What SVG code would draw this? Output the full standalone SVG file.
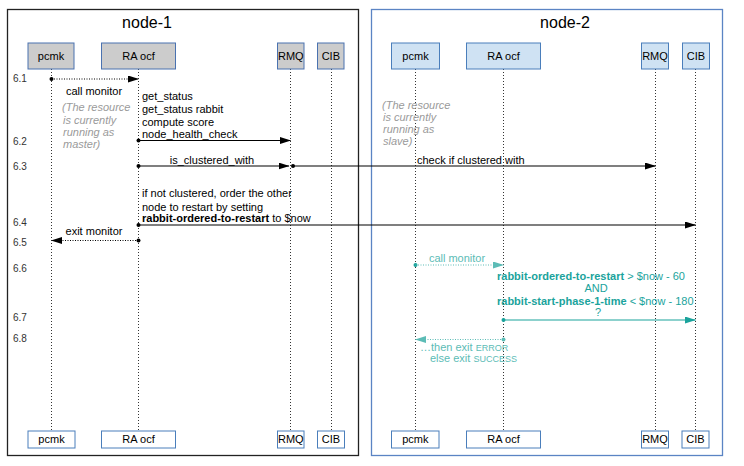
<svg xmlns="http://www.w3.org/2000/svg" width="744" height="466" viewBox="0 0 744 466">
<defs>
<marker id="ab" markerWidth="11" markerHeight="7" refX="10.5" refY="3.5" orient="auto" markerUnits="userSpaceOnUse"><path d="M0,0 L11,3.5 L0,7 z" fill="#000"/></marker>
<marker id="at" markerWidth="11" markerHeight="7" refX="10.5" refY="3.5" orient="auto" markerUnits="userSpaceOnUse"><path d="M0,0 L11,3.5 L0,7 z" fill="#1aa39c"/></marker>
<marker id="atl" markerWidth="11" markerHeight="7" refX="10.5" refY="3.5" orient="auto" markerUnits="userSpaceOnUse"><path d="M0,0 L11,3.5 L0,7 z" fill="#5cbcb6"/></marker>
</defs>
<style>
text{font-family:"Liberation Sans",Arial,Helvetica,sans-serif;font-size:11px;fill:#000}
.f1{fill:#fff;stroke:#222;stroke-width:1.3}
.f2{fill:#fff;stroke:#5b84c4;stroke-width:1.3}
.g{fill:#cccccc;stroke:#4a72b0;stroke-width:1}
.bl{fill:#cfe2f3;stroke:#4a7ebb;stroke-width:1}
.w{fill:#fff;stroke:#4a7ebb;stroke-width:1}
.life{stroke:#000;stroke-width:0.8;stroke-dasharray:1 2;fill:none}
.sol{stroke:#000;stroke-width:1.1;fill:none}
.dot{stroke:#000;stroke-width:1;stroke-dasharray:1 1.5;fill:none}
.tsol{stroke:#1aa39c;stroke-width:1.1;fill:none}
.tdot{stroke:#5cbcb6;stroke-width:1;stroke-dasharray:1 1.5;fill:none}
.note{fill:#9a9a9a;font-style:italic}
.num{font-size:10px;fill:#333}
.hd{font-size:16px}
.t{fill:#1aa39c}
.tl{fill:#5cbcb6}
.sc{font-size:9px}
</style>

<g id="frames">
<rect id="node-1" class="f1" x="7.5" y="9.5" width="351" height="446"/>
<rect id="node-2" class="f2" x="371.5" y="9.5" width="351" height="446"/>
<text class="hd" x="147" y="28" text-anchor="middle">node-1</text>
<text class="hd" x="565" y="28" text-anchor="middle">node-2</text>
</g>

<g id="lifelines">
<line class="life" x1="51.5" y1="69" x2="51.5" y2="431"/>
<line class="life" x1="138.5" y1="69" x2="138.5" y2="431"/>
<line class="life" x1="290.5" y1="69" x2="290.5" y2="431"/>
<line class="life" x1="331.5" y1="69" x2="331.5" y2="431"/>
<line class="life" x1="415.5" y1="69" x2="415.5" y2="431"/>
<line class="life" x1="503.5" y1="69" x2="503.5" y2="431"/>
<line class="life" x1="655.5" y1="69" x2="655.5" y2="431"/>
<line class="life" x1="695.5" y1="69" x2="695.5" y2="431"/>
</g>

<g id="n1-pcmk"><rect class="g" x="28" y="43" width="46" height="26"/><text x="51" y="60" text-anchor="middle">pcmk</text></g>
<g id="n1-ra"><rect class="g" x="101.5" y="43" width="74" height="26"/><text x="138.5" y="60" text-anchor="middle">RA ocf</text></g>
<g id="n1-rmq"><rect class="g" x="277.5" y="43" width="26.5" height="26"/><text x="290.8" y="60" text-anchor="middle">RMQ</text></g>
<g id="n1-cib"><rect class="g" x="317.5" y="43" width="26.5" height="26"/><text x="330.8" y="60" text-anchor="middle">CIB</text></g>

<g id="n2-pcmk"><rect class="bl" x="391.5" y="43" width="48" height="26"/><text x="415.5" y="60" text-anchor="middle">pcmk</text></g>
<g id="n2-ra"><rect class="bl" x="466.5" y="43" width="74" height="26"/><text x="503.5" y="60" text-anchor="middle">RA ocf</text></g>
<g id="n2-rmq"><rect class="bl" x="641.5" y="43" width="27" height="26"/><text x="655" y="60" text-anchor="middle">RMQ</text></g>
<g id="n2-cib"><rect class="bl" x="682.5" y="43" width="27" height="26"/><text x="696" y="60" text-anchor="middle">CIB</text></g>

<g id="n1-pcmk-bottom"><rect class="w" x="28" y="431" width="47" height="17"/><text x="51.5" y="443" text-anchor="middle">pcmk</text></g>
<g id="n1-ra-bottom"><rect class="w" x="101.5" y="431" width="74" height="17"/><text x="138.5" y="443" text-anchor="middle">RA ocf</text></g>
<g id="n1-rmq-bottom"><rect class="w" x="277.5" y="431" width="26.5" height="17"/><text x="290.8" y="443" text-anchor="middle">RMQ</text></g>
<g id="n1-cib-bottom"><rect class="w" x="317.5" y="431" width="27" height="17"/><text x="331" y="443" text-anchor="middle">CIB</text></g>

<g id="n2-pcmk-bottom"><rect class="w" x="391.5" y="431" width="47.5" height="17"/><text x="415.3" y="443" text-anchor="middle">pcmk</text></g>
<g id="n2-ra-bottom"><rect class="w" x="466.5" y="431" width="74" height="17"/><text x="503.5" y="443" text-anchor="middle">RA ocf</text></g>
<g id="n2-rmq-bottom"><rect class="w" x="641.5" y="431" width="27" height="17"/><text x="655" y="443" text-anchor="middle">RMQ</text></g>
<g id="n2-cib-bottom"><rect class="w" x="682" y="431" width="27" height="17"/><text x="695.5" y="443" text-anchor="middle">CIB</text></g>

<g id="step-labels">
<text class="num" x="13" y="82">6.1</text>
<text class="num" x="13" y="145">6.2</text>
<text class="num" x="13" y="170">6.3</text>
<text class="num" x="13" y="226">6.4</text>
<text class="num" x="13" y="246">6.5</text>
<text class="num" x="13" y="272">6.6</text>
<text class="num" x="13" y="321">6.7</text>
<text class="num" x="13" y="342">6.8</text>
</g>

<g id="notes">
<text class="note" x="62" y="111">(The resource</text>
<text class="note" x="63" y="124">is currently</text>
<text class="note" x="63" y="136">running as</text>
<text class="note" x="63" y="148">master)</text>
<text class="note" x="382" y="109">(The resource</text>
<text class="note" x="383" y="121">is currently</text>
<text class="note" x="383" y="133">running as</text>
<text class="note" x="383" y="145">slave)</text>
</g>

<g id="connectors">
<circle cx="51.5" cy="79" r="2" fill="#000"/>
<line class="dot" x1="51.5" y1="79" x2="138.5" y2="79" marker-end="url(#ab)"/>
<text x="94" y="95" text-anchor="middle">call monitor</text>
<text x="142" y="100">get_status</text>
<text x="142" y="113">get_status rabbit</text>
<text x="142" y="126">compute score</text>
<text x="142" y="138">node_health_check</text>
<circle cx="138.5" cy="140.5" r="2" fill="#000"/>
<line class="sol" x1="138.5" y1="140.5" x2="290.5" y2="140.5" marker-end="url(#ab)"/>
<text x="212" y="164" text-anchor="middle">is_clustered_with</text>
<circle cx="138.5" cy="166" r="2" fill="#000"/>
<line class="sol" x1="138.5" y1="166" x2="289" y2="166" marker-end="url(#ab)"/>
<circle cx="293" cy="166" r="2" fill="#000"/>
<line class="sol" x1="293" y1="166" x2="655.5" y2="166" marker-end="url(#ab)"/>
<text x="417" y="164">check if clustered with</text>
<text x="142" y="197">if not clustered, order the other</text>
<text x="142" y="211">node to restart by setting</text>
<text x="142" y="222"><tspan font-weight="bold">rabbit-ordered-to-restart</tspan> to $now</text>
<circle cx="138.5" cy="225" r="2" fill="#000"/>
<line class="sol" x1="138.5" y1="225" x2="695.5" y2="225" marker-end="url(#ab)"/>
<text x="94" y="235" text-anchor="middle">exit monitor</text>
<circle cx="138.5" cy="240.5" r="2" fill="#000"/>
<line class="dot" x1="138.5" y1="240.5" x2="51.5" y2="240.5" marker-end="url(#ab)"/>
<text class="tl" x="457" y="262" text-anchor="middle">call monitor</text>
<circle cx="415.5" cy="265" r="2" fill="#1aa39c"/>
<line class="tdot" x1="415.5" y1="265" x2="503.5" y2="265" marker-end="url(#atl)"/>
<text class="t" x="497" y="280"><tspan font-weight="bold">rabbit-ordered-to-restart</tspan> &gt; $now - 60</text>
<text class="t" x="596" y="292" text-anchor="middle">AND</text>
<text class="t" x="497" y="305"><tspan font-weight="bold">rabbit-start-phase-1-time</tspan> &lt; $now - 180</text>
<text class="t" x="598" y="316" text-anchor="middle">?</text>
<circle cx="503.5" cy="320" r="2" fill="#1aa39c"/>
<line class="tsol" x1="503.5" y1="320" x2="695.5" y2="320" marker-end="url(#at)"/>
<circle cx="503.5" cy="339.5" r="2" fill="#5cbcb6"/>
<line class="tdot" x1="503.5" y1="339.5" x2="415.5" y2="339.5" marker-end="url(#atl)"/>
<text class="tl" x="420" y="351">…then exit <tspan class="sc">ERROR</tspan></text>
<text class="tl" x="430" y="362">else exit <tspan class="sc">SUCCESS</tspan></text>
</g>
</svg>
